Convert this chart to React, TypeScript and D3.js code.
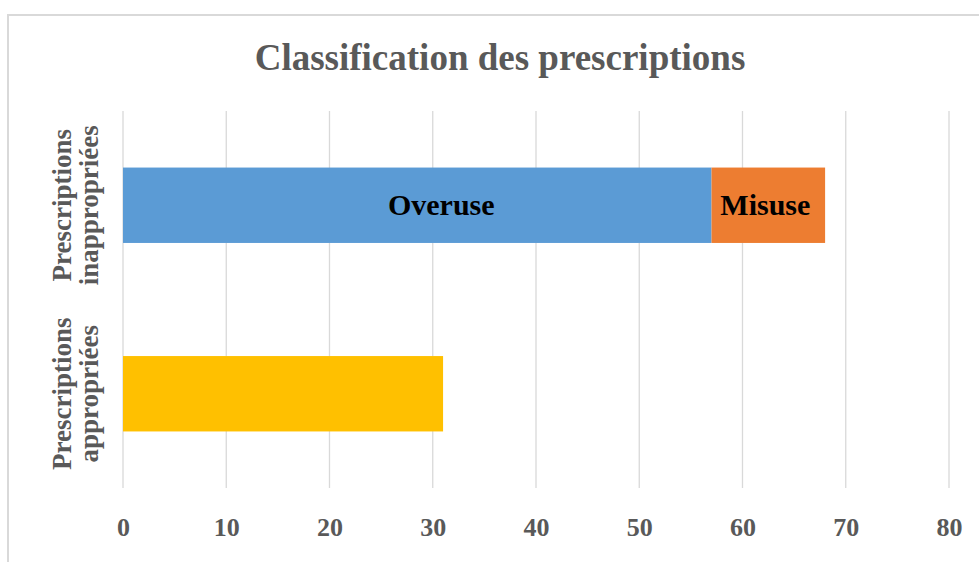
import React, { useEffect, useRef } from 'react';
import { select, scaleLinear, scaleBand, axisBottom } from 'd3';

const categories = ['Prescriptions inappropriées', 'Prescriptions appropriées'];
const labelLines = [['Prescriptions', 'inappropriées'], ['Prescriptions', 'appropriées']];
const overuse = [57, 0];
const misuse = [11, 0];
const appropriate = [0, 31];
const segmentNames = ['Overuse', 'Misuse', ''];
const segmentColors = ['#5B9BD5', '#ED7D31', '#FFC000'];
const xTicks = [0, 10, 20, 30, 40, 50, 60, 70, 80];

const W = 979;
const H = 562;

const App = () => {
  const svgRef = useRef<SVGSVGElement>(null);

  useEffect(() => {
    const svg = select(svgRef.current);
    svg.selectAll('*').remove();

    const left = 123, right = 949, top = 111, bottom = 488;
    const x = scaleLinear().domain([0, 80]).range([left, right]);
    const y = scaleBand().domain(categories).range([top, bottom]).paddingInner(0.6).paddingOuter(0.3);

    // chart border
    svg.append('rect')
      .attr('x', 8).attr('y', 15).attr('width', W).attr('height', H)
      .attr('fill', 'white').attr('stroke', '#d9d9d9').attr('stroke-width', 2);

    svg.append('text')
      .attr('x', 500).attr('y', 70)
      .attr('text-anchor', 'middle')
      .attr('font-family', '"Liberation Serif", serif')
      .attr('font-weight', 'bold')
      .attr('font-size', 37)
      .attr('fill', '#595959')
      .text('Classification des prescriptions');

    // gridlines
    svg.append('g').selectAll('line').data(xTicks).join('line')
      .attr('x1', d => x(d)).attr('x2', d => x(d))
      .attr('y1', top).attr('y2', bottom)
      .attr('stroke', '#d9d9d9').attr('stroke-width', 1.3);

    const xAxis = svg.append('g')
      .attr('transform', `translate(0, ${bottom})`)
      .call(axisBottom(x).tickValues(xTicks).tickSize(0).tickPadding(30));
    xAxis.select('.domain').remove();
    xAxis.selectAll('text')
      .attr('font-family', '"Liberation Serif", serif')
      .attr('font-weight', 'bold')
      .attr('font-size', 26)
      .attr('fill', '#595959');

    // stacked segments
    const rows = categories.map((c, i) => {
      const vals = [overuse[i], misuse[i], appropriate[i]];
      let acc = 0;
      return vals.map((v, k) => {
        const s = { cat: c, x0: acc, x1: acc + v, k };
        acc += v;
        return s;
      }).filter(s => s.x1 > s.x0);
    }).flat();

    svg.append('g').selectAll('rect').data(rows).join('rect')
      .attr('x', d => x(d.x0))
      .attr('width', d => x(d.x1) - x(d.x0))
      .attr('y', d => y(d.cat)!)
      .attr('height', y.bandwidth())
      .attr('fill', d => segmentColors[d.k]);

    // labels sit inside the segments; the big one is nudged right like the original
    svg.append('g').selectAll('text').data(rows.filter(d => segmentNames[d.k])).join('text')
      .attr('x', d => (x(d.x0) + x(d.x1)) / 2)
      .attr('dx', d => (d.k === 0 ? 24 : -3))
      .attr('y', d => y(d.cat)! + y.bandwidth() / 2)
      .attr('dy', '0.33em')
      .attr('text-anchor', 'middle')
      .attr('font-family', '"Liberation Serif", serif')
      .attr('font-weight', 'bold')
      .attr('font-size', 30)
      .attr('fill', '#000')
      .text(d => segmentNames[d.k]);

    // category labels, rotated
    const yl = svg.append('g').selectAll('text').data(categories).join('text')
      .attr('transform', d => `translate(75, ${y(d)! + y.bandwidth() / 2}) rotate(-90)`)
      .attr('text-anchor', 'middle')
      .attr('font-family', '"Liberation Serif", serif')
      .attr('font-weight', 'bold')
      .attr('font-size', 27)
      .attr('fill', '#595959');
    yl.selectAll('tspan').data((d, i) => labelLines[i]).join('tspan')
      .attr('x', 0)
      .attr('y', (d, j) => (j === 0 ? -4 : 23))
      .text(d => d);
  }, []);

  return (
    <svg ref={svgRef} width={W} height={H} style={{ position: 'absolute', left: 0, top: 0 }} />
  );
};

export default App;
